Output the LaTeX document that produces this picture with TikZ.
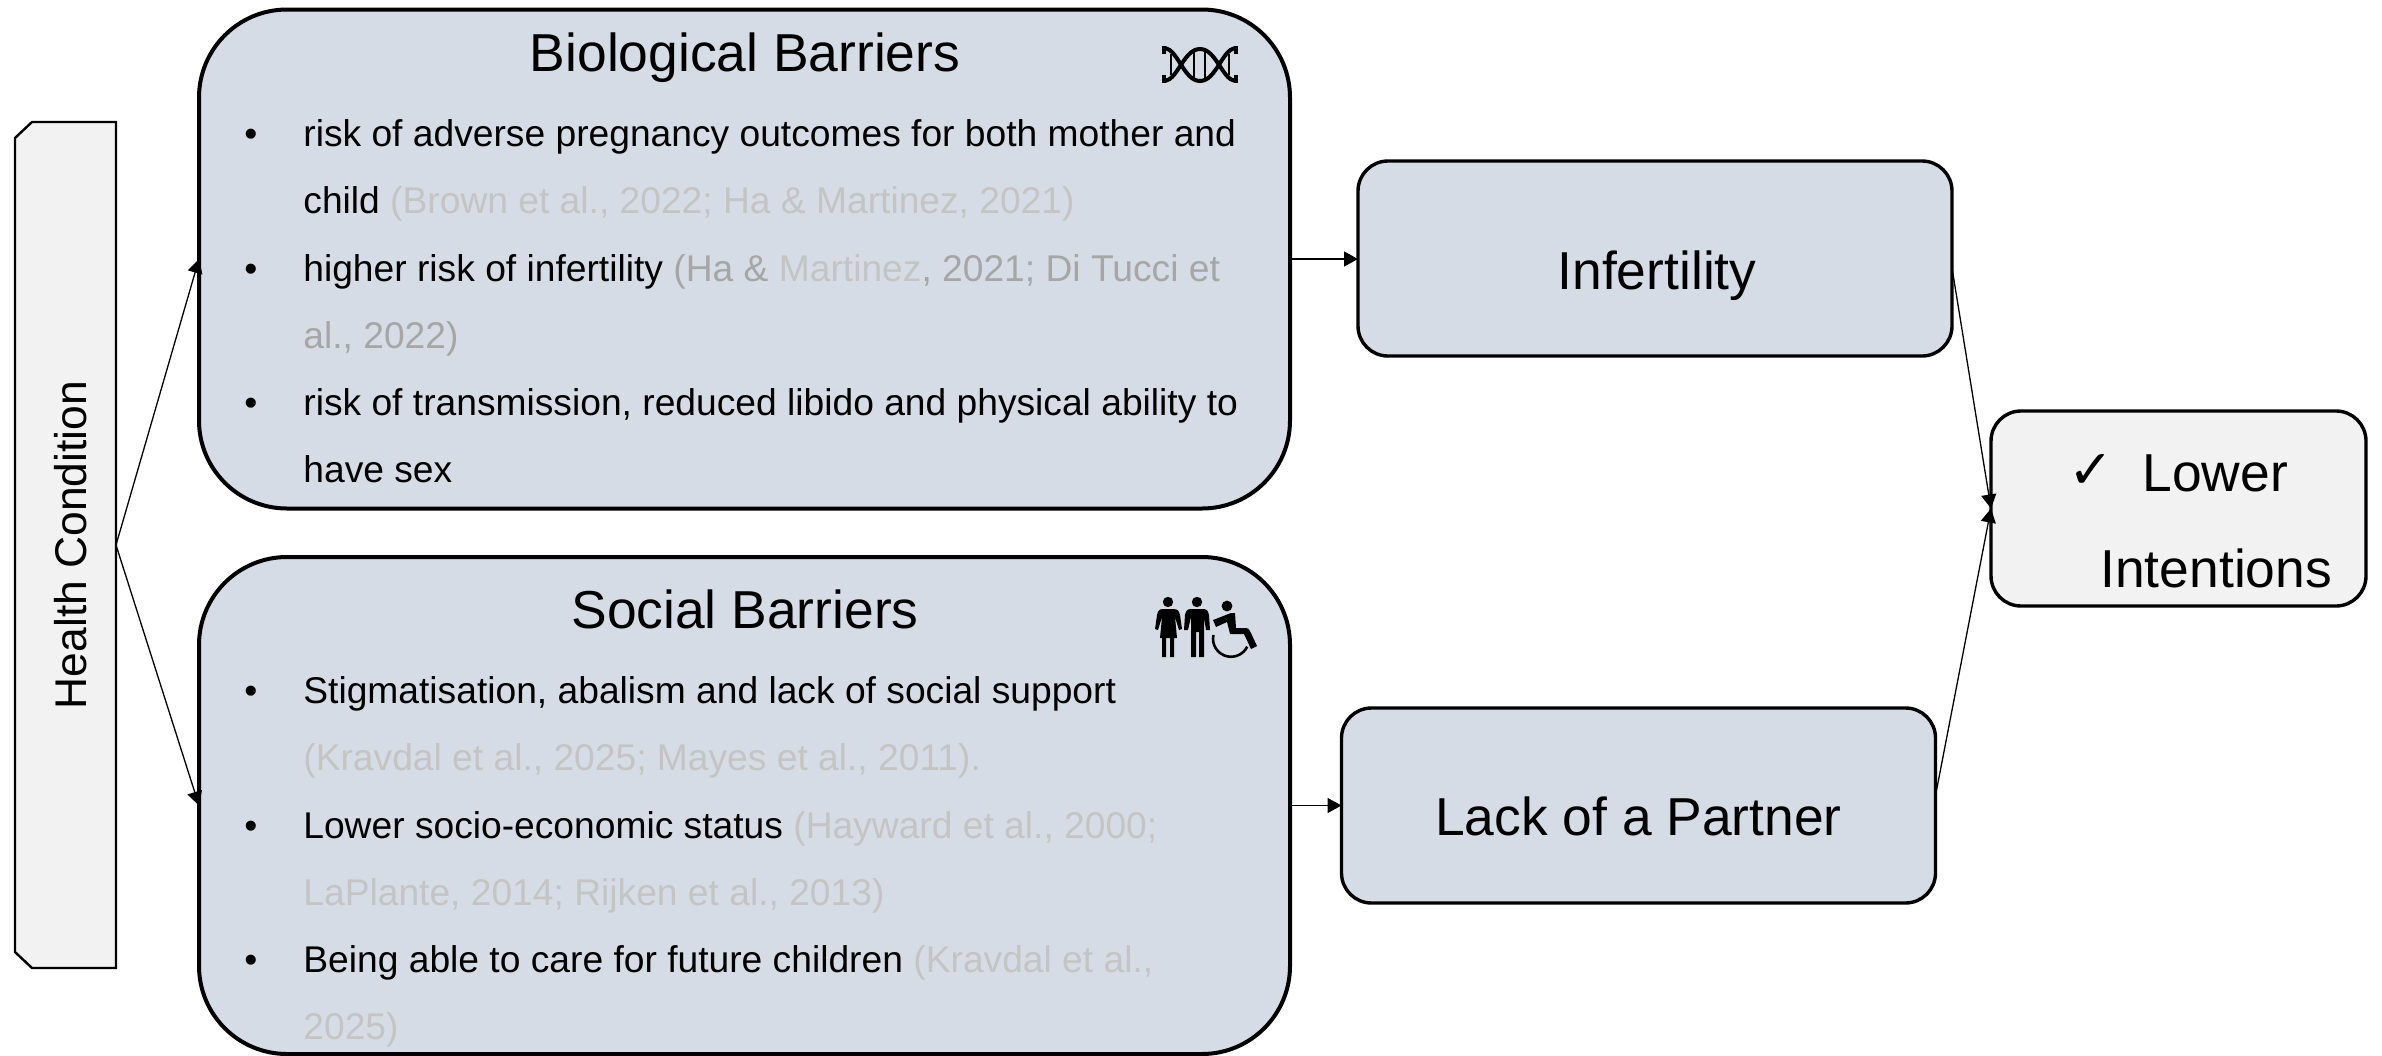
\documentclass[tikz,border=0pt]{standalone}
\usepackage{fontspec}
\setmainfont{Liberation Sans}
\newfontfamily\symfont{DejaVu Sans}
\usetikzlibrary{arrows.meta}
\definecolor{boxblue}{HTML}{D6DCE5}
\definecolor{boxgrey}{HTML}{F2F2F2}
\definecolor{citeA}{HTML}{C4C4C4}
\definecolor{citeB}{HTML}{A6A6A6}
\newcommand{\lc}[1]{\textcolor{citeA}{#1}}
\newcommand{\mc}[1]{\textcolor{citeB}{#1}}
\newcommand{\blt}{\makebox[29.5pt][l]{•}}
\newcommand{\cnt}{\hspace*{29.5pt}}
\tikzset{
  bigbox/.style={draw=black,fill=boxblue,line width=2pt,outer sep=0pt,rounded corners=44pt,minimum width=545.5pt,inner sep=0pt},
  outcome/.style={draw=black,fill=boxblue,line width=1.7pt,outer sep=0pt,rounded corners=15pt,minimum width=297pt,minimum height=97.5pt,inner sep=0pt},
  finalbox/.style={outcome,fill=boxgrey,minimum width=187.5pt},
  sideanchor/.style={outer sep=0pt,minimum width=50.5pt,minimum height=423pt,inner sep=0pt},
  sideline/.style={draw=black,fill=boxgrey,line width=1.2pt},
  title/.style={anchor=base,inner sep=0pt,font=\fontsize{26.7}{30}\selectfont},
  body/.style={anchor=north west,inner sep=0pt,align=left,font=\fontsize{18.6}{33.56}\selectfont},
  conn/.style={draw=black,line width=0.65pt,-{Triangle[length=7pt,width=7.5pt]}},
  ink/.style={fill=black,draw=none},
}
\begin{document}
\begin{tikzpicture}[x=0.5pt,y=-0.5pt]
\useasboundingbox (0,0) rectangle (2382,1055);
% boxes
\node[sideanchor] (health) at (65.5,545) {};
\draw[sideline] (32,122) -- (116,122) -- (116,968) -- (32,968) -- (15,952) -- (15,138) -- cycle;
\node[bigbox,minimum height=249.5pt] (bio) at (744.5,259) {};
\node[bigbox,minimum height=248.5pt] (social) at (744.5,805.5) {};
\node[outcome] (infert) at (1655,258.5) {};
\node[outcome] (partner) at (1638.5,805.5) {};
\node[finalbox] (lower) at (2178.5,508.5) {};
\coordinate (infOut) at (1952,268);
\coordinate (partOut) at (1935,798);
% connectors
\draw[conn] (health.east) -- (bio.west);
\draw[conn] (health.east) -- (social.west);
\draw[conn] (bio.east) -- (bio.east -| infert.west);
\draw[conn] (social.east) -- (social.east -| partner.west);
\draw[conn] (infOut) -- (lower.west);
\draw[conn] (partOut) -- (lower.west);
% labels
\node[anchor=base,inner sep=0pt,rotate=90,font=\fontsize{22.2}{26}\selectfont] (healthT) at (86,545) {Health Condition};
\node[title] (bioT) at (745,71.5) {Biological Barriers};
\node[title] (socialT) at (745,628.5) {Social Barriers};
\node[title] (infertT) at (1657,289) {Infertility};
\node[title] (partnerT) at (1638.5,835) {Lack of a Partner};
\node[anchor=base west,inner sep=0pt,font=\fontsize{26.7}{30}\selectfont] (lowerA) at (2142,491) {Lower};
\node[anchor=base east,inner sep=0pt,font=\symfont\fontsize{27}{30}\selectfont] (check) at (2114,488) {✓};
\node[anchor=base west,inner sep=0pt,font=\fontsize{26.7}{30}\selectfont] (lowerB) at (2100,587) {Intentions};
% body texts
\node[body] (bioB) at (244,119.5) {%
\blt risk of adverse pregnancy outcomes for both mother and\\
\cnt child \lc{(Brown et al., 2022; Ha \& Martinez, 2021)}\\
\blt higher risk of infertility \mc{(Ha \&} \lc{Martinez}\mc{, 2021; Di Tucci et}\\
\cnt \mc{al., 2022)}\\
\blt risk of transmission, reduced libido and physical ability to\\
\cnt have sex};
\node[body] (socialB) at (244,676.5) {%
\blt Stigmatisation, abalism and lack of social support\\
\cnt \lc{(Kravdal et al., 2025; Mayes et al., 2011).}\\
\blt Lower socio-economic status \lc{(Hayward et al., 2000;}\\
\cnt \lc{LaPlante, 2014; Rijken et al., 2013)}\\
\blt Being able to care for future children \lc{(Kravdal et al.,}\\
\cnt \lc{2025)}};
% DNA icon
\begin{scope}[line width=2pt,draw=black,line cap=butt]
\draw (1165,48) .. controls (1178,50) and (1184,81) .. (1200,81) .. controls (1216,81) and (1222,50) .. (1235,48);
\draw (1165,81) .. controls (1178,79) and (1184,49) .. (1200,49) .. controls (1216,49) and (1222,79) .. (1235,81);
\draw (1164,46) -- (1164,54);
\draw (1164,75) -- (1164,83);
\draw (1236,46) -- (1236,54);
\draw (1236,75) -- (1236,83);
\draw[line width=1.4pt] (1171,54) -- (1171,75);
\draw[line width=1.4pt] (1229,54) -- (1229,75);
\draw[line width=1.4pt] (1194,51) -- (1194,79);
\draw[line width=1.4pt] (1205,51) -- (1205,79);
\end{scope}
% people icon: woman
\fill[ink] (1168,602) circle (5.2);
\fill[ink] (1163,609) -- (1173,609) .. controls (1178,609) and (1179,611) .. (1180,615) -- (1182,629) -- (1179,630) -- (1175,617) -- (1177,638) -- (1174,638) -- (1174,657) -- (1170,657) -- (1170,638) -- (1166,638) -- (1166,657) -- (1162,657) -- (1162,638) -- (1160,638) -- (1162,617) -- (1158,630) -- (1155,629) -- (1157,615) .. controls (1158,611) and (1159,609) .. (1163,609) -- cycle;
% man
\fill[ink] (1197,602) circle (5.2);
\fill[ink] (1191,609) -- (1203,609) .. controls (1207,609) and (1208,611) .. (1209,615) -- (1210,630) -- (1206,630) -- (1204,617) -- (1204,657) -- (1199,657) -- (1199,632) -- (1196,632) -- (1196,657) -- (1191,657) -- (1191,617) -- (1188,630) -- (1184,630) -- (1185,615) .. controls (1186,611) and (1187,609) .. (1191,609) -- cycle;
% wheelchair user
\fill[ink] (1227,606) circle (5.4);
\fill[ink] (1213,620) -- (1231,613) -- (1235,613) -- (1236,628) -- (1246,628) .. controls (1248,628) and (1249,629) .. (1250,631) -- (1257,646) -- (1251,649) -- (1244,634) -- (1230,634) -- (1227,622) -- (1216,627) -- cycle;
\draw[line width=1.3pt] (1213.4,635) arc[start angle=192,end angle=26,radius=18];
\end{tikzpicture}
\end{document}
